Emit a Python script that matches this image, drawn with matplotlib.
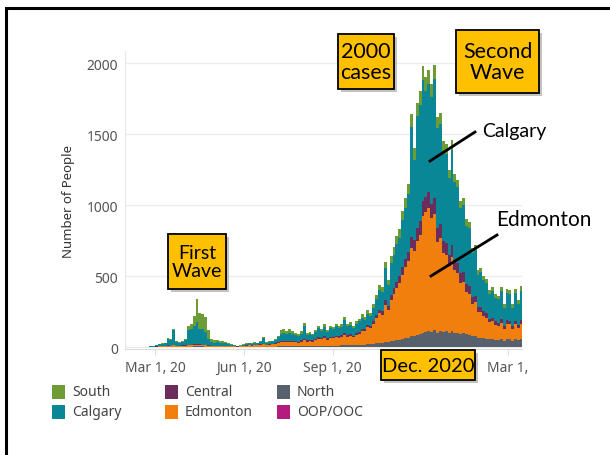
# Alberta daily COVID-19 cases by zone, stacked bars with call-out boxes

import matplotlib.pyplot as plt
from matplotlib.patches import Rectangle
import pandas as pd

# 3-day bins starting Feb 24, 2020
bin_start = pd.date_range('2020-02-24', periods=129, freq='3D')

south = [1, 1, 2, 2, 3, 3, 5, 5, 6, 5, 5, 6, 10, 30, 40, 70, 165, 110, 100, 110,
         60, 25, 20, 18, 15, 12, 10, 7, 5, 3, 2,
         2, 3, 3, 4, 3, 5, 4, 6, 8, 5, 6, 6, 8, 12, 25, 28, 20, 25, 20, 18,
         15, 16, 20, 14, 14, 12, 15, 18, 15, 18, 14, 16, 15, 18, 16, 16, 20, 16, 18, 15,
         18, 20, 22, 20, 24,
         22, 25, 30, 35, 32, 45, 35, 45, 50, 55, 60, 65, 70, 75, 90, 80, 95, 95, 100, 95,
         100, 90, 100, 80, 80, 70, 70, 60, 70, 60, 55, 50, 50, 45, 45, 35, 35, 30, 30, 28,
         28, 25, 26, 24, 24, 28, 22, 30, 30, 24, 32, 26, 34]
calgary = [3, 7, 9, 13, 16, 20, 48, 40, 104, 26, 22, 23, 38, 104, 109, 130, 154, 112, 113, 91,
           49, 26, 21, 23, 22, 20, 18, 12, 9, 7, 4,
           5, 7, 10, 10, 10, 13, 11, 15, 40, 13, 15, 16, 24, 34, 52, 57, 49, 55, 51, 41,
           37, 47, 93, 40, 43, 37, 49, 64, 51, 66, 44, 60, 54, 66, 58, 62, 94, 64, 66, 55,
           66, 74, 78, 66, 82,
           68, 95, 113, 142, 136, 225, 145, 229, 236, 265, 274, 335, 360, 405, 775, 570, 790, 820, 850, 750,
           760, 755, 840, 705, 705, 630, 625, 545, 670, 545, 535, 460, 475, 410, 405, 315, 325, 230, 245, 220,
           214, 174, 187, 167, 164, 196, 133, 190, 185, 131, 193, 149, 205]
central = [0, 0, 1, 1, 1, 1, 2, 2, 3, 2, 1, 2, 2, 3, 3, 4, 4, 4, 3, 3,
           2, 2, 2, 2, 2, 2, 1, 1, 1, 1, 1,
           1, 2, 2, 3, 2, 3, 2, 3, 4, 3, 3, 4, 5, 6, 8, 8, 8, 9, 8, 8,
           7, 9, 10, 8, 8, 8, 9, 10, 10, 11, 9, 10, 10, 11, 10, 11, 12, 11, 12, 10,
           12, 13, 14, 13, 16,
           15, 18, 22, 25, 24, 35, 28, 38, 42, 45, 48, 55, 60, 65, 80, 75, 90, 95, 110, 105,
           110, 100, 115, 95, 95, 85, 85, 75, 85, 75, 70, 65, 65, 55, 55, 45, 45, 35, 35, 32,
           30, 26, 27, 24, 22, 26, 20, 25, 25, 20, 25, 22, 26]
edmonton = [1, 2, 3, 3, 4, 5, 8, 7, 10, 6, 6, 7, 8, 10, 10, 12, 12, 10, 10, 8,
            6, 5, 5, 5, 5, 5, 5, 4, 4, 4, 3,
            4, 7, 9, 11, 9, 12, 11, 14, 15, 12, 14, 16, 20, 24, 30, 32, 28, 30, 30, 28,
            26, 32, 40, 32, 34, 32, 40, 50, 46, 56, 45, 55, 52, 60, 56, 60, 72, 62, 66, 58,
            70, 78, 100, 95, 120,
            115, 140, 180, 210, 200, 260, 230, 290, 330, 370, 400, 450, 500, 540, 620, 600, 660, 700, 820, 850,
            870, 800, 820, 640, 660, 560, 540, 470, 520, 440, 420, 360, 360, 300, 290, 230, 240, 180, 185, 160,
            150, 120, 125, 105, 100, 115, 80, 110, 105, 80, 105, 85, 110]
north = [0, 0, 0, 1, 1, 1, 2, 1, 2, 1, 1, 2, 2, 3, 3, 4, 5, 4, 4, 3,
         3, 2, 2, 2, 1, 1, 1, 1, 1, 0, 0,
         0, 1, 1, 2, 1, 2, 2, 2, 3, 2, 2, 3, 3, 4, 5, 5, 5, 6, 6, 5,
         5, 6, 7, 6, 6, 6, 7, 8, 8, 9, 8, 9, 9, 10, 10, 11, 12, 12, 13, 12,
         14, 15, 16, 16, 18,
         20, 22, 25, 28, 28, 35, 32, 38, 42, 45, 48, 55, 60, 65, 75, 75, 85, 90, 100, 100,
         110, 105, 115, 100, 110, 105, 110, 100, 115, 100, 100, 95, 100, 90, 85, 75, 75, 65, 65, 60,
         58, 55, 55, 50, 50, 55, 45, 55, 55, 45, 55, 48, 55]
oop = [0, 0, 0, 0, 0, 0, 0, 0, 0, 0, 0, 0, 0, 0, 0, 0, 0, 0, 0, 0,
       0, 0, 0, 0, 0, 0, 0, 0, 0, 0, 0, 0, 0, 0, 0, 0, 0, 0, 0, 0,
       0, 0, 0, 0, 0, 0, 0, 0, 0, 0, 0, 0, 0, 0, 0, 0, 0, 0, 0, 0,
       0, 0, 0, 0, 0, 0, 0, 0, 0, 0, 0, 0, 0, 0, 0, 0, 0, 0, 0, 0,
       1, 0, 1, 1, 2, 1, 2, 2, 3, 2, 3, 2, 3, 3, 2, 3, 2, 3, 2, 2,
       2, 1, 2, 1, 1, 1, 1, 0, 1, 0, 1,
       0, 1, 0, 0, 1, 0, 0, 0, 1, 0, 0, 0, 0, 1, 0, 0, 0, 0]

zones = ['South', 'Calgary', 'Central', 'Edmonton', 'North', 'OOP/OOC']
colors = ['#6d9c36', '#0a8797', '#6b2d5c', '#f07f0d', '#56616d', '#b31b7e']
series = [south, calgary, central, edmonton, north, oop]

# the Dec 1 label sits under the "Dec. 2020" box, so it is left blank
tick_dates = pd.to_datetime(['2020-03-01', '2020-06-01', '2020-09-01', '2020-12-01', '2021-03-01'])
tick_labels = ['Mar 1, 20', 'Jun 1, 20', 'Sep 1, 20', '', 'Mar 1,']

W, H = 610, 456
fig = plt.figure(figsize=(W / 100, H / 100), dpi=100)
ax = fig.add_axes([125 / W, 1 - 350 / H, (522 - 125) / W, (350 - 52) / H])

# stack from the bottom: OOP, North, Edmonton, Central, Calgary, South
bottom = [0] * len(bin_start)
for name, col, vals in reversed(list(zip(zones, colors, series))):
    ax.bar(bin_start, vals, width=3, bottom=bottom, align='edge', color=col, linewidth=0)
    bottom = [b + v for b, v in zip(bottom, vals)]

ax.set_xlim(pd.Timestamp('2020-01-30'), pd.Timestamp('2021-03-16'))
ax.set_ylim(-14, 2088)
ax.set_yticks([0, 500, 1000, 1500, 2000])
ax.set_xticks(tick_dates)
ax.set_xticklabels(tick_labels)
ax.grid(axis='y', color='#ececec', lw=1)
ax.set_axisbelow(True)
for s in ['top', 'right']:
    ax.spines[s].set_visible(False)
ax.spines['left'].set_color('#e8e8e8')
ax.spines['bottom'].set_color('#dcdcdc')
ax.tick_params(axis='y', length=0, pad=5, labelsize=10, labelcolor='#555555')
ax.tick_params(axis='x', length=4, color='#e0e0e0', pad=4, labelsize=10, labelcolor='#555555')
for lab in ax.get_xticklabels() + ax.get_yticklabels():
    lab.set_family('Noto Sans')
ax.set_ylabel('Number of People', fontsize=9.5, color='#333333', family='Noto Sans', labelpad=8)


def fx(x):
    return x / W


def fy(y):
    return 1 - y / H


def callout(x0, y0, x1, y1, text, size):
    shadow = Rectangle((fx(x0 + 2.5), fy(y1 + 2.5)), (x1 - x0) / W, (y1 - y0) / H,
                       transform=fig.transFigure, facecolor='#9a9a9a', edgecolor='none', alpha=0.6)
    box = Rectangle((fx(x0), fy(y1)), (x1 - x0) / W, (y1 - y0) / H,
                    transform=fig.transFigure, facecolor='#ffc000', edgecolor='black', lw=1.3)
    fig.patches.extend([shadow, box])
    fig.text(fx((x0 + x1) / 2), fy((y0 + y1) / 2), text, ha='center', va='center',
             fontsize=size, family=['Lato', 'DejaVu Sans'], linespacing=1.1)


callout(338, 35, 394, 90, '2000\ncases', 15.5)
callout(456, 31, 539, 94, 'Second\nWave', 15.5)
callout(168, 235, 226, 290, 'First\nWave', 14)
callout(381, 351, 475, 381, 'Dec. 2020', 14.5)

fig.text(fx(482), fy(132), 'Calgary', ha='left', va='center', fontsize=14,
         family=['Lato', 'DejaVu Sans'])
fig.text(fx(496), fy(220), 'Edmonton', ha='left', va='center', fontsize=15,
         family=['Lato', 'DejaVu Sans'])
fig.lines.append(plt.Line2D([fx(475), fx(430)], [fy(133), fy(162)], transform=fig.transFigure,
                            color='black', lw=2))
fig.lines.append(plt.Line2D([fx(497), fx(431)], [fy(236), fy(277)], transform=fig.transFigure,
                            color='black', lw=2))

# legend, filled column by column
col_x = [52, 165, 277]
row_y = [393, 413]
for k, (name, col) in enumerate(zip(zones, colors)):
    cx = col_x[k // 2]
    cy = row_y[k % 2]
    fig.patches.append(Rectangle((fx(cx), fy(cy + 7)), 13 / W, 14 / H, transform=fig.transFigure,
                                 facecolor=col, edgecolor='none'))
    fig.text(fx(cx + 20), fy(cy), name, ha='left', va='center', fontsize=10,
             color='#444444', family='Noto Sans')

# outer frame
fig.patches.append(Rectangle((fx(6), fy(470)), (640 - 6) / W, (470 - 9) / H,
                             transform=fig.transFigure, facecolor='none', edgecolor='black', lw=2.2))

plt.savefig('out.png', dpi=100)
plt.close()
